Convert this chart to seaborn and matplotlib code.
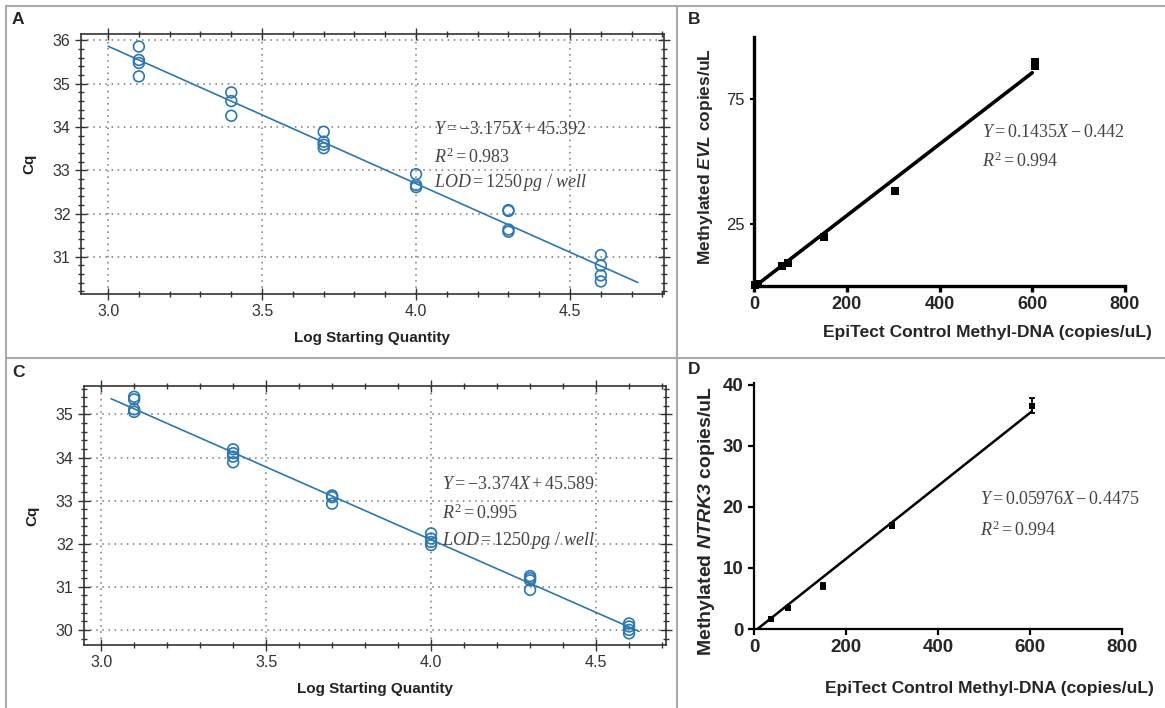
import numpy as np
import matplotlib
matplotlib.use("Agg")
import matplotlib.pyplot as plt
from matplotlib.lines import Line2D
from matplotlib.ticker import MultipleLocator, FormatStrFormatter, FixedLocator
import seaborn as sns

# --- panel A : standard curve (run 1) ---
a_x = [3.1] * 4 + [3.4] * 3 + [3.7] * 4 + [4.0] * 3 + [4.3] * 4 + [4.6] * 4
a_cq = [35.86, 35.55, 35.48, 35.17,
        34.80, 34.60, 34.26,
        33.89, 33.66, 33.59, 33.51,
        32.91, 32.66, 32.61,
        32.08, 32.06, 31.63, 31.58,
        31.04, 30.80, 30.57, 30.43]
a_slope, a_icpt, a_span = -3.175, 45.392, [3.0, 4.72]

# --- panel C : standard curve (run 2) ---
c_x = [3.1] * 4 + [3.4] * 4 + [3.7] * 3 + [4.0] * 4 + [4.3] * 4 + [4.6] * 4
c_cq = [35.41, 35.35, 35.12, 35.06,
        34.19, 34.10, 34.02, 33.89,
        33.12, 33.08, 32.93,
        32.24, 32.12, 32.04, 31.97,
        31.25, 31.20, 31.15, 30.93,
        30.15, 30.08, 30.00, 29.92]
c_slope, c_icpt, c_span = -3.374, 45.589, [3.03, 4.63]

# --- panel B : EVL ---
b_x = [2, 9.5, 61, 74, 152, 304, 606, 606]
b_y = [0.4, 1.0, 8.2, 9.4, 19.5, 38.2, 88.4, 89.8]
b_slope, b_icpt, b_span = 0.1435, -0.442, [0, 600]

# --- panel D : NTRK3 ---
d_x = [38, 74, 150, 301, 604]
d_y = [1.6, 3.4, 7.1, 16.9, 36.6]
d_err = [0.15, 0.25, 0.5, 0.4, 1.2]
d_slope, d_icpt, d_span = 0.05976, -0.4475, [7.5, 604]

sns.set_theme(style="ticks")
plt.rcParams["font.family"] = ["Liberation Sans", "DejaVu Sans"]
plt.rcParams["mathtext.fontset"] = "custom"
plt.rcParams["mathtext.rm"] = "Liberation Serif"
plt.rcParams["mathtext.it"] = "Liberation Serif:italic"
plt.rcParams["mathtext.bf"] = "Liberation Sans:bold"
plt.rcParams["mathtext.bfit"] = "Liberation Sans:bold:italic"

W, H = 1165, 708
fig = plt.figure(figsize=(W / 100, H / 100), dpi=100)


def px_axes(l, t, r, b):
    return fig.add_axes([l / W, (H - b) / H, (r - l) / W, (b - t) / H])


blue = "#2b77b0"


def qpcr_panel(ax, xs, ys, slope, icpt, span, xlim, ylim, ymaj, eq_pos, eqs):
    sns.scatterplot(x=xs, y=ys, ax=ax, marker="o", s=60, facecolors="none",
                    edgecolor=blue, linewidth=1.2, zorder=3)
    lx = np.array(span)
    sns.lineplot(x=lx, y=slope * lx + icpt, ax=ax, color=blue, lw=1.2,
                 estimator=None, zorder=2)
    ax.set_xlim(*xlim)
    ax.set_ylim(*ylim)
    ax.xaxis.set_major_locator(FixedLocator([3.0, 3.5, 4.0, 4.5]))
    ax.xaxis.set_major_formatter(FormatStrFormatter("%.1f"))
    ax.xaxis.set_minor_locator(MultipleLocator(0.1))
    ax.yaxis.set_major_locator(FixedLocator(ymaj))
    ax.yaxis.set_minor_locator(MultipleLocator(0.2))
    ax.grid(True, which="major", ls=(0, (1, 3)), color="#777777", lw=1.1)
    for s in ax.spines.values():
        s.set_color("#333333")
        s.set_linewidth(1.2)
    ax.tick_params(which="both", direction="inout", top=True, right=True,
                   color="#333333", width=1.0, labelsize=11.5, labelcolor="#333333")
    ax.tick_params(which="major", length=8)
    ax.tick_params(which="minor", length=4)
    ax.set_xlabel("Log Starting Quantity", fontsize=11, fontweight="bold",
                  color="#222222", labelpad=8)
    ax.set_ylabel("Cq", fontsize=11, fontweight="bold",
                  color="#222222", labelpad=12)
    x0, ys_ = eq_pos
    for txt, yy in zip(eqs, ys_):
        ax.text(x0, yy, txt, transform=ax.transAxes, fontsize=13,
                color="#444444", va="center", ha="left", zorder=4)


axA = px_axes(81, 34, 664, 294)
qpcr_panel(axA, a_x, a_cq, a_slope, a_icpt, a_span, (2.912, 4.805),
           (30.14, 36.15), [31, 32, 33, 34, 35, 36],
           (0.605, [0.631, 0.527, 0.427]),
           [r"$Y = -3.175X + 45.392$", r"$R^2 = 0.983$",
            r"$LOD = 1250\,pg\ /\ well$"])

axC = px_axes(84, 386, 666, 645)
qpcr_panel(axC, c_x, c_cq, c_slope, c_icpt, c_span, (2.948, 4.712),
           (29.65, 35.66), [30, 31, 32, 33, 34, 35],
           (0.615, [0.618, 0.51, 0.405]),
           [r"$Y = -3.374X + 45.589$", r"$R^2 = 0.995$",
            r"$LOD = 1250\,pg\ /\ well$"])


def copy_panel(ax, spine_w):
    ax.set_xlim(0, 800)
    ax.xaxis.set_major_locator(FixedLocator([0, 200, 400, 600, 800]))
    for side in ("top", "right"):
        ax.spines[side].set_visible(False)
    for side in ("left", "bottom"):
        ax.spines[side].set_color("black")
        ax.spines[side].set_linewidth(spine_w)
    ax.tick_params(direction="out", color="black", length=4, width=spine_w)
    ax.patch.set_alpha(0)


# B
axB = px_axes(754, 37, 1125, 286)
lx = np.array(b_span)
sns.lineplot(x=lx, y=b_slope * lx + b_icpt, ax=axB, color="black", lw=2.6,
             estimator=None)
sns.scatterplot(x=b_x, y=b_y, ax=axB, marker="s", s=28, color="black",
                edgecolor="black", linewidth=0, zorder=3, clip_on=False)
copy_panel(axB, 2.4)
axB.set_ylim(0, 100)
axB.yaxis.set_major_locator(FixedLocator([25, 75]))
axB.tick_params(axis="y", labelsize=12, length=3, width=1.5)
axB.tick_params(axis="x", labelsize=13)
for lab in axB.get_xticklabels():
    lab.set_fontweight("bold")
axB.set_ylabel(r"Methylated $\mathbfit{EVL}$ copies/uL", fontsize=12.5,
               fontweight="bold")
axB.yaxis.set_label_coords(-0.105, 0.52)
axB.set_xlabel("EpiTect Control Methyl-DNA (copies/uL)", fontsize=12.5,
               fontweight="bold")
axB.xaxis.set_label_coords(0.629, -0.155)
axB.text(0.615, 0.618, r"$Y = 0.1435X - 0.442$", transform=axB.transAxes,
         fontsize=13, color="#444444", va="center")
axB.text(0.615, 0.502, r"$R^2 = 0.994$", transform=axB.transAxes,
         fontsize=13, color="#444444", va="center")

# D
axD = px_axes(754, 383, 1122, 629)
lx = np.array(d_span)
sns.lineplot(x=lx, y=d_slope * lx + d_icpt, ax=axD, color="black", lw=1.8,
             estimator=None)
axD.errorbar(d_x, d_y, yerr=d_err, fmt="none", ecolor="black", elinewidth=1.3,
             capsize=2.5, capthick=1.3, zorder=3)
sns.scatterplot(x=d_x, y=d_y, ax=axD, marker="s", s=14, color="black",
                edgecolor="black", linewidth=0, zorder=4)
copy_panel(axD, 1.6)
axD.set_ylim(0, 40.3)
axD.yaxis.set_major_locator(FixedLocator([0, 10, 20, 30, 40]))
axD.tick_params(labelsize=13.5)
for lab in axD.get_xticklabels() + axD.get_yticklabels():
    lab.set_fontweight("bold")
axD.set_ylabel(r"Methylated $\mathbfit{NTRK3}$ copies/uL", fontsize=14,
               fontweight="bold")
axD.yaxis.set_label_coords(-0.10, 0.44)
axD.set_xlabel("EpiTect Control Methyl-DNA (copies/uL)", fontsize=12.5,
               fontweight="bold")
axD.xaxis.set_label_coords(0.639, -0.21)
axD.text(0.614, 0.525, r"$Y = 0.05976X - 0.4475$", transform=axD.transAxes,
         fontsize=13, color="#444444", va="center")
axD.text(0.614, 0.403, r"$R^2 = 0.994$", transform=axD.transAxes,
         fontsize=13, color="#444444", va="center")

# panel frame lines and letters
frame = "#aaaaaa"
for (x0, y0, x1, y1) in [(6, 6, W, 6), (6, 358, W, 358), (6, 6, 6, H),
                         (677, 6, 677, H)]:
    fig.add_artist(Line2D([x0 / W, x1 / W], [1 - y0 / H, 1 - y1 / H],
                          color=frame, lw=1.5))
for letter, (x, y) in zip("ABCD", [(12, 20), (688, 20), (12, 372), (688, 370)]):
    fig.text(x / W, 1 - y / H, letter, fontsize=12.5, fontweight="bold",
             va="center", ha="left")

fig.savefig("out.png", dpi=100)
